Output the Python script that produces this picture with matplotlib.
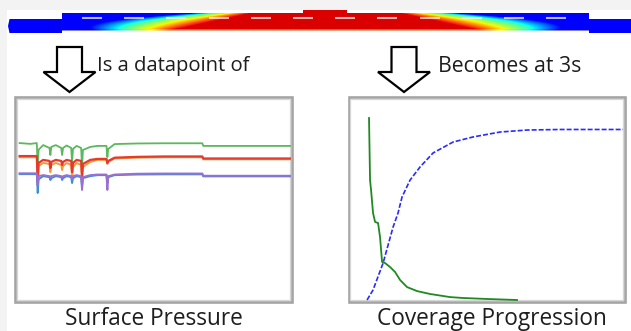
import numpy as np
import matplotlib
matplotlib.use("Agg")
import matplotlib.pyplot as plt
from matplotlib.patches import Polygon, Rectangle

W, H = 631, 331

# ---- Surface pressure panel: time [s] vs pressure [kPa] ----
sp_time = [0.00, 0.12, 0.19, 0.20, 0.21, 0.26, 0.33, 0.34, 0.35, 0.40, 0.46, 0.47,
           0.48, 0.52, 0.57, 0.58, 0.59, 0.63, 0.68, 0.69, 0.70, 0.78, 0.86, 0.96,
           0.97, 0.98, 1.05, 1.30, 1.60, 2.02, 2.03, 3.00]
sp_green = [77.8, 77.4, 77.8, 65.5, 74.5, 76.8, 75.4, 71.9, 75.9, 76.8, 75.4, 71.9,
            75.4, 76.6, 75.4, 68.5, 74.9, 76.4, 75.4, 66.0, 74.4, 75.9, 76.4, 76.4,
            70.9, 74.9, 77.3, 77.6, 77.7, 77.7, 76.4, 76.4]
sp_orange = [70.8, 70.8, 70.8, 57.1, 66.5, 68.0, 67.5, 63.5, 67.0, 68.0, 67.0, 64.5,
             66.5, 68.0, 67.0, 61.0, 66.0, 68.0, 67.0, 60.5, 66.0, 68.5, 69.5, 69.5,
             67.5, 68.5, 70.2, 70.6, 70.8, 70.8, 69.8, 69.8]
sp_red = [71.4, 71.4, 71.4, 58.6, 68.0, 69.5, 69.0, 65.5, 68.5, 69.5, 69.0, 67.0,
          68.5, 69.5, 69.0, 63.5, 68.0, 69.5, 69.0, 61.1, 67.5, 69.5, 70.0, 70.0,
          68.0, 69.0, 70.6, 71.0, 71.2, 71.2, 70.2, 70.2]
sp_blue = [62.5, 62.5, 62.5, 53.2, 60.0, 61.5, 61.0, 59.6, 60.5, 61.5, 61.0, 59.6,
           60.5, 61.5, 61.0, 58.1, 60.5, 61.5, 61.0, 56.5, 60.5, 61.5, 62.0, 62.0,
           58.0, 61.0, 62.0, 62.3, 62.4, 62.4, 61.4, 61.4]
sp_purple = [62.9, 62.9, 62.9, 57.0, 61.5, 62.0, 61.5, 61.0, 61.5, 62.0, 61.5, 60.5,
             61.5, 62.0, 61.5, 60.0, 61.5, 62.0, 61.5, 54.7, 61.0, 62.0, 62.3, 62.3,
             54.7, 61.5, 62.3, 62.7, 62.8, 62.8, 61.7, 61.7]

# ---- Coverage progression panel: time [s] vs coverage fraction ----
cov_time_green = [0.023, 0.035, 0.047, 0.070, 0.094, 0.129, 0.152, 0.176, 0.211,
                  0.270, 0.328, 0.387, 0.469, 0.586, 0.739, 0.973, 1.125, 1.442, 1.758]
cov_green = [1.000, 0.659, 0.604, 0.478, 0.429, 0.423, 0.346, 0.209, 0.203,
             0.181, 0.154, 0.110, 0.071, 0.049, 0.033, 0.016, 0.011, 0.005, 0.000]
cov_time_blue = [0.000, 0.070, 0.188, 0.305, 0.363, 0.410, 0.504, 0.621, 0.774,
                 1.008, 1.243, 1.559, 1.876, 2.263, 3.000]
cov_blue = [0.000, 0.055, 0.203, 0.401, 0.478, 0.566, 0.659, 0.731, 0.808,
            0.868, 0.896, 0.923, 0.934, 0.937, 0.937]

caption_left = "Is a datapoint of"
caption_right = "Becomes at 3s"
title_left = "Surface Pressure"
title_right = "Coverage Progression"

FONT = ["Open Sans", "DejaVu Sans"]
TXT = "#1e1e1e"

fig = plt.figure(figsize=(W / 100, H / 100), dpi=100)
fig.patch.set_facecolor("white")
bg = fig.add_axes([0, 0, 1, 1])
bg.set_xlim(0, W)
bg.set_ylim(H, 0)
bg.axis("off")

# window frame strips
bg.add_patch(Rectangle((0, 0), W, 9.5, color="#f3f3f3", lw=0))
bg.add_patch(Rectangle((0, 0), 7, H, color="#f3f3f3", lw=0))

# ---- pressure field strip across the part cross-section ----
xs = np.arange(0, W, 1.0) + 0.5
ys = np.arange(8, 36, 1.0) + 0.5
X, Y = np.meshgrid(xs, ys)
d = np.abs(X - 325.5)
t = np.clip((Y - 13) / 17.5, -0.2, 1.0)
edge = 74 + 82 * t
tt = np.clip(t, 0, 1)
width = 55 + 20 * tt + 160 * tt * (1 - tt)
val = 1 - np.clip((d - edge) / width, 0, 1)
val = np.where(Y > 28.5, val - 0.12 * val, val)
cmap = plt.get_cmap("jet")
rgb = cmap(0.12 + 0.80 * val)
im = bg.imshow(rgb, extent=(0, W, 36, 8), interpolation="bilinear", zorder=2)
outline = [(8, 26), (9.5, 19), (62, 19), (62, 13), (303, 13), (303, 10), (347, 10),
           (347, 13), (589, 13), (589, 19), (631, 19), (631, 33), (589, 33),
           (589, 30.5), (62, 30.5), (62, 33), (9.5, 33)]
clip = Polygon(outline, closed=True, transform=bg.transData, facecolor="none", lw=0)
bg.add_patch(clip)
im.set_clip_path(clip)
for x0 in 82 + 42.2 * np.arange(12):
    bg.plot([x0, x0 + 20], [18, 18], color="white", lw=1.5, alpha=0.7,
            solid_capstyle="butt", zorder=3)

# ---- hollow down arrows with captions ----
def down_arrow(cx):
    pts = [(cx - 12.5, 47), (cx + 12.5, 47), (cx + 12.5, 72), (cx + 26, 72),
           (cx, 92), (cx - 26, 72), (cx - 12.5, 72)]
    bg.add_patch(Polygon(pts, closed=True, facecolor="white", edgecolor="black",
                         lw=1.6, joinstyle="miter", zorder=4))

down_arrow(69.5)
down_arrow(404)
bg.text(97, 71.5, caption_left, family=FONT, fontsize=14.6, color=TXT, va="baseline", ha="left")
bg.text(438, 71.5, caption_right, family=FONT, fontsize=15.3, color=TXT, va="baseline", ha="left")

# ---- panel frames ----
for (x0, y0, x1, y1) in [(15, 97, 292, 302), (348.5, 97, 625, 302)]:
    bg.add_patch(Rectangle((x0, y0), x1 - x0, y1 - y0, facecolor="white",
                           edgecolor="#a4a4a4", lw=1.9, zorder=1))
    bg.add_patch(Rectangle((x0 + 1.8, y0 + 1.8), x1 - x0 - 3.6, y1 - y0 - 3.6,
                           facecolor="none", edgecolor="#d6d6d6", lw=0.9, zorder=1))

bg.text(154, 325, title_left, family=FONT, fontsize=16.3, color=TXT, va="baseline", ha="center")
bg.text(492, 325, title_right, family=FONT, fontsize=16.3, color=TXT, va="baseline", ha="center")


def px_axes(x0, y0, x1, y1):
    ax = fig.add_axes([x0 / W, 1 - y1 / H, (x1 - x0) / W, (y1 - y0) / H])
    ax.set_facecolor("none")
    ax.axis("off")
    return ax

# left chart
axl = px_axes(16, 98, 291, 301)
axl.set_xlim(-0.04, 3.0)
axl.set_ylim(0, 100)
axl.plot(sp_time, sp_green, color="#5cb85c", lw=1.3)
axl.plot(sp_time, sp_orange, color="#f39a3c", lw=1.4)
axl.plot(sp_time, sp_red, color="#e5392c", lw=1.6)
axl.plot(sp_time, sp_blue, color="#3d8fd8", lw=1.4)
axl.plot(sp_time, sp_purple, color="#9b6fd2", lw=1.4)

# right chart
axr = px_axes(350, 100, 623, 301)
axr.set_xlim(-0.2, 3.0)
axr.set_ylim(-0.0055, 1.099)
axr.plot(cov_time_green, cov_green, color="#1f8a1f", lw=1.3)
axr.plot(cov_time_blue, cov_blue, color="#2a2aff", lw=1.2, dashes=(3, 1.2))

fig.savefig("out.png", dpi=100, facecolor="white")
